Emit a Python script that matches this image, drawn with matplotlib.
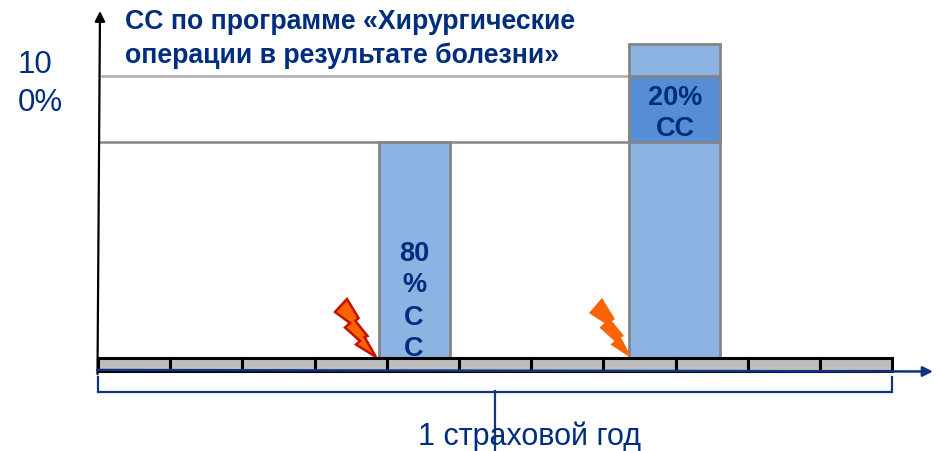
import matplotlib
matplotlib.use("Agg")
import matplotlib.pyplot as plt
from matplotlib.patches import Polygon

plt.rcParams['font.family'] = ['Liberation Sans', 'DejaVu Sans']

# Data (schematic: x in months of the insurance year, y in % units of the picture)
periods = list(range(11))
bar_starts = [3.89, 7.36]
bar_widths = [0.98, 1.25]
bar_heights = [65.5, 95.2]
band_bottom = [65.5]
band_height = [20.0]
level_lines = [65.5, 85.5]
bar_labels = ["80\n%\nС\nС", "20%\nСС"]
title_lines = ["СС по программе «Хирургические", "операции в результате болезни»"]
y_label = "10\n0%"
x_label = "1 страховой год"

NAVY = "#002D7D"
LINE = "#12337F"
LIGHT = "#8DB3E2"
MID = "#558ED5"
EDGE = "#858585"
CELL = "#BEBEBE"

W, H = 936, 452
X0, Y0 = 98.0, 359.0
SX, SY = 72.2, 3.3


def dx(px):
    return (px - X0) / SX


def dy(py):
    return (Y0 - py) / SY


fig = plt.figure(figsize=(W / 100, H / 100), dpi=100, facecolor="white")
ax = fig.add_axes([0, 0, 1, 1])
ax.set_xlim(dx(0), dx(W))
ax.set_ylim(dy(H), dy(0))
ax.axis("off")

# horizontal guide lines
ax.plot([dx(102), dx(630)], [level_lines[1]] * 2, color="#ABABAB", lw=1.8, zorder=1)
ax.plot([dx(100), dx(630)], [level_lines[0]] * 2, color=EDGE, lw=1.8, zorder=1)

# bars
ax.bar(bar_starts, bar_heights, width=bar_widths, align="edge", color=LIGHT,
       edgecolor=EDGE, linewidth=2, zorder=2)
ax.bar(bar_starts[1:], band_height, width=bar_widths[1:], bottom=band_bottom, align="edge",
       color=MID, edgecolor=EDGE, linewidth=2, zorder=3)

# cells of the year
ax.bar(periods, [-3.9] * len(periods), width=1.0, align="edge", color=CELL,
       edgecolor="black", linewidth=2.2, zorder=4)

# axes arrows
ax.annotate("", xy=(dx(100), dy(12)), xytext=(dx(97.5), dy(375)),
            arrowprops=dict(arrowstyle="-|>", color="black", lw=1.6, mutation_scale=15,
                            shrinkA=0, shrinkB=0), zorder=6)
ax.annotate("", xy=(dx(933), dy(372.5)), xytext=(dx(97), dy(371)),
            arrowprops=dict(arrowstyle="-|>", color=LINE, lw=1.8, mutation_scale=15,
                            shrinkA=0, shrinkB=0), zorder=6)

# bracket
ax.plot([dx(98), dx(98), dx(892), dx(892)], [dy(378), dy(393), dy(393), dy(378)],
        color=LINE, lw=1.6, zorder=5, solid_joinstyle="miter")
ax.plot([dx(495), dx(495)], [dy(392), dy(452)], color=LINE, lw=1.6, zorder=5)

# lightning bolts
bolt1 = [(347, 300), (358.5, 319), (355.5, 322), (367.5, 337), (364.5, 338), (376, 358),
         (356, 345.5), (360, 342), (345, 328.5), (350, 324), (335, 313)]
bolt2 = [(602, 299.5), (614.5, 320), (611.5, 322), (623.5, 337), (620.5, 338), (631, 358.5),
         (611, 345.5), (615, 342), (600, 328.5), (605, 324), (589.5, 314)]
ax.add_patch(Polygon([(dx(x), dy(y)) for x, y in bolt1], closed=True, facecolor="#F96303",
                     edgecolor="#C80F00", lw=1.8, zorder=3))
ax.add_patch(Polygon([(dx(x), dy(y)) for x, y in bolt2], closed=True, facecolor="#F96303",
                     edgecolor="#F96303", lw=0.5, zorder=3))

# text
ax.text(dx(125), dy(22), title_lines[0], color=NAVY, fontsize=19.2, fontweight="bold",
        ha="left", va="center", zorder=7)
ax.text(dx(125), dy(56), title_lines[1], color=NAVY, fontsize=19.2, fontweight="bold",
        ha="left", va="center", zorder=7)

for txt, y, x in zip(y_label.split("\n"), [65, 103], [35, 40]):
    ax.text(dx(x), dy(y), txt, color=NAVY, fontsize=22.5,
            ha="center", va="center", zorder=7)

for txt, y in zip(bar_labels[0].split("\n"), [254, 285, 318, 349]):
    ax.text(dx(414), dy(y), txt, color=NAVY, fontsize=19.5, fontweight="bold",
            ha="center", va="center", zorder=7)
for txt, y in zip(bar_labels[1].split("\n"), [98, 129]):
    ax.text(dx(675), dy(y), txt, color=NAVY, fontsize=19.5, fontweight="bold",
            ha="center", va="center", zorder=7)

ax.text(dx(530), dy(437), x_label, color=NAVY, fontsize=22, ha="center", va="center", zorder=7)

fig.savefig("out.png", dpi=100, facecolor="white")
